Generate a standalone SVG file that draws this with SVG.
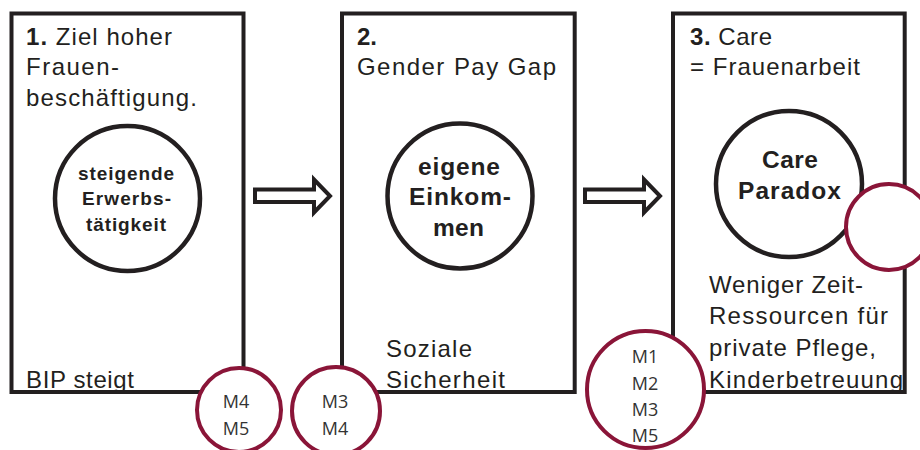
<svg xmlns="http://www.w3.org/2000/svg" width="920" height="450" viewBox="0 0 920 450">
  <style>
    .box { fill: #ffffff; stroke: #231f20; stroke-width: 4; }
    .core { fill: #ffffff; stroke: #231f20; stroke-width: 4.5; }
    .tag { fill: #ffffff; stroke: #8a1538; stroke-width: 4; }
    .arrow { fill: #ffffff; stroke: #231f20; stroke-width: 4; stroke-linejoin: miter; }
    .t { font-family: "Liberation Sans", Arial, sans-serif; font-size: 24px; fill: #231f20; }
    .b { font-weight: bold; }
    .c { font-family: "Liberation Sans", Arial, sans-serif; font-weight: bold; fill: #231f20; text-anchor: middle; }
    .m { font-family: "Open Sans", "Liberation Sans", sans-serif; font-size: 18px; fill: #333333; text-anchor: middle; }
  </style>

  <!-- Stage 1 -->
  <g id="box1">
    <rect class="box" x="11.5" y="13.5" width="232" height="378.5"/>
    <circle class="core" cx="127.5" cy="198.5" r="72.5"/>
    <text class="t" x="26" y="45" textLength="146" lengthAdjust="spacing"><tspan class="b">1.</tspan> Ziel hoher</text>
    <text class="t" x="26" y="75" textLength="93" lengthAdjust="spacing">Frauen-</text>
    <text class="t" x="26" y="106" textLength="171" lengthAdjust="spacing">beschäftigung.</text>
    <text class="c" x="126" y="180" font-size="19" textLength="96" lengthAdjust="spacing">steigende</text>
    <text class="c" x="126.5" y="205" font-size="19" textLength="89" lengthAdjust="spacing">Erwerbs-</text>
    <text class="c" x="126" y="231" font-size="19" textLength="80" lengthAdjust="spacing">tätigkeit</text>
    <text class="t" x="26" y="388" textLength="108" lengthAdjust="spacing">BIP steigt</text>
  </g>

  <!-- Stage 2 -->
  <g id="box2">
    <rect class="box" x="342" y="13.5" width="232.7" height="378.5"/>
    <circle class="core" cx="460" cy="196" r="72.5"/>
    <text class="t b" x="357" y="45">2.</text>
    <text class="t" x="357" y="75" textLength="199" lengthAdjust="spacing">Gender  Pay Gap</text>
    <text class="c" x="459" y="175" font-size="24.5" textLength="82" lengthAdjust="spacing">eigene</text>
    <text class="c" x="460" y="205" font-size="24.5" textLength="102" lengthAdjust="spacing">Einkom-</text>
    <text class="c" x="458.5" y="236" font-size="24.5" textLength="51" lengthAdjust="spacing">men</text>
    <text class="t" x="386" y="357" textLength="86" lengthAdjust="spacing">Soziale</text>
    <text class="t" x="386" y="388" textLength="119" lengthAdjust="spacing">Sicherheit</text>
  </g>

  <!-- Stage 3 -->
  <g id="box3">
    <rect class="box" x="673" y="13.5" width="231.7" height="378.5"/>
    <circle class="core" cx="789" cy="184" r="73"/>
    <text class="t" x="690" y="45" textLength="82" lengthAdjust="spacing"><tspan class="b">3.</tspan> Care</text>
    <text class="t" x="690" y="75" textLength="170" lengthAdjust="spacing">= Frauenarbeit</text>
    <text class="c" x="790" y="168" font-size="24.5" textLength="56" lengthAdjust="spacing">Care</text>
    <text class="c" x="789.5" y="199" font-size="24.5" textLength="103" lengthAdjust="spacing">Paradox</text>
    <text class="t" x="709" y="293" textLength="154" lengthAdjust="spacing">Weniger Zeit-</text>
    <text class="t" x="709" y="324" textLength="179" lengthAdjust="spacing">Ressourcen für</text>
    <text class="t" x="709" y="356" textLength="167" lengthAdjust="spacing">private Pflege,</text>
    <text class="t" x="709" y="388" textLength="194" lengthAdjust="spacing">Kinderbetreuung</text>
  </g>

  <!-- Block arrows between stages -->
  <g id="connectors">
    <polygon class="arrow" points="255,189.5 314,189.5 314,179.5 330,196 314,212.5 314,202 255,202"/>
    <polygon class="arrow" points="585,189.5 644,189.5 644,179.5 660,196 644,212.5 644,202 585,202"/>
  </g>

  <!-- Material references -->
  <g id="ref-m4-m5">
    <circle class="tag" cx="239" cy="410" r="42"/>
    <text class="m" x="236" y="408">M4</text>
    <text class="m" x="236" y="435">M5</text>
  </g>
  <g id="ref-m3-m4">
    <circle class="tag" cx="336" cy="411" r="44"/>
    <text class="m" x="335" y="408">M3</text>
    <text class="m" x="335" y="435">M4</text>
  </g>
  <g id="ref-m1-m5">
    <circle class="tag" cx="645.5" cy="389.5" r="58.5"/>
    <text class="m" x="645" y="363">M1</text>
    <text class="m" x="645" y="390">M2</text>
    <text class="m" x="645" y="416">M3</text>
    <text class="m" x="645" y="442">M5</text>
  </g>
  <g id="ref-empty">
    <circle class="tag" cx="889" cy="227" r="43"/>
  </g>
</svg>
